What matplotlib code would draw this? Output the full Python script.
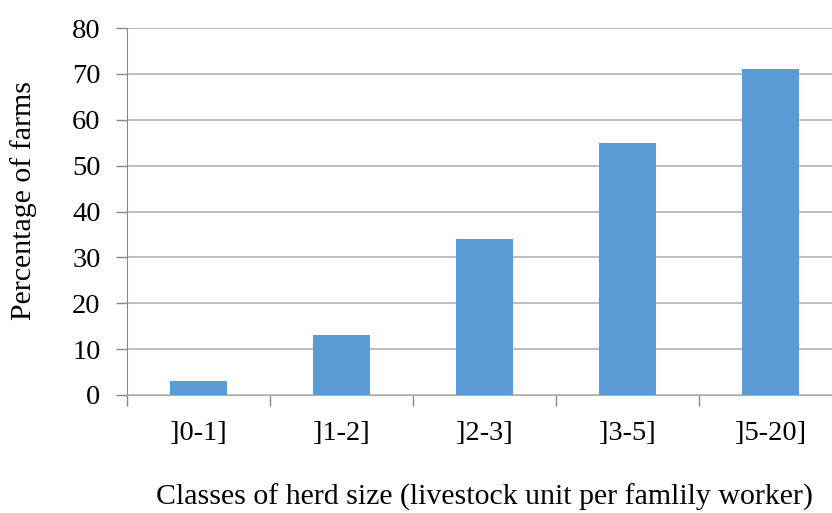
import matplotlib
matplotlib.use("Agg")
import matplotlib.pyplot as plt

categories = [']0-1]', ']1-2]', ']2-3]', ']3-5]', ']5-20]']
values = [3, 13, 34, 55, 71]
yticks = [0, 10, 20, 30, 40, 50, 60, 70, 80]

plt.rcParams['font.family'] = ['Liberation Serif', 'DejaVu Serif']

W, H = 832, 513
fig = plt.figure(figsize=(W/100, H/100), dpi=100)
left, right, top, bottom = 127, 842, 28, 395
ax = fig.add_axes([left/W, 1-bottom/H, (right-left)/W, (bottom-top)/H])

x = list(range(len(categories)))
ax.bar(x, values, width=0.4, color='#5B9BD5', zorder=3)
ax.set_xlim(-0.5, len(categories)-0.5)
ax.set_ylim(0, 80)
ax.set_yticks(yticks)
ax.set_yticklabels([str(v) for v in yticks], fontsize=20.5)
ax.set_xticks(x)
ax.set_xticklabels(categories, fontsize=20.5)
ax.set_xticks([i - 0.5 for i in range(len(categories)+1)], minor=True)
ax.tick_params(axis='x', which='major', length=0, pad=18.5)
ax.tick_params(axis='x', which='minor', length=8, color='#878787', width=1)
ax.tick_params(axis='y', length=8, color='#878787', width=1, pad=11)
ax.grid(axis='y', color='#b8b8b8', linewidth=1.3, zorder=0)
for s in ['top', 'right']:
    ax.spines[s].set_visible(False)
ax.spines['left'].set_color('#878787')
ax.spines['bottom'].set_color('#b0b0b0')
fig.text(24/W, 1-201/H, 'Percentage of farms', fontsize=21.5, rotation=90,
         ha='center', va='center')
fig.text(484/W, 1-497/H, 'Classes of herd size (livestock unit per famlily worker)',
         fontsize=21.5, ha='center', va='center')
fig.savefig('out.png', dpi=100)
